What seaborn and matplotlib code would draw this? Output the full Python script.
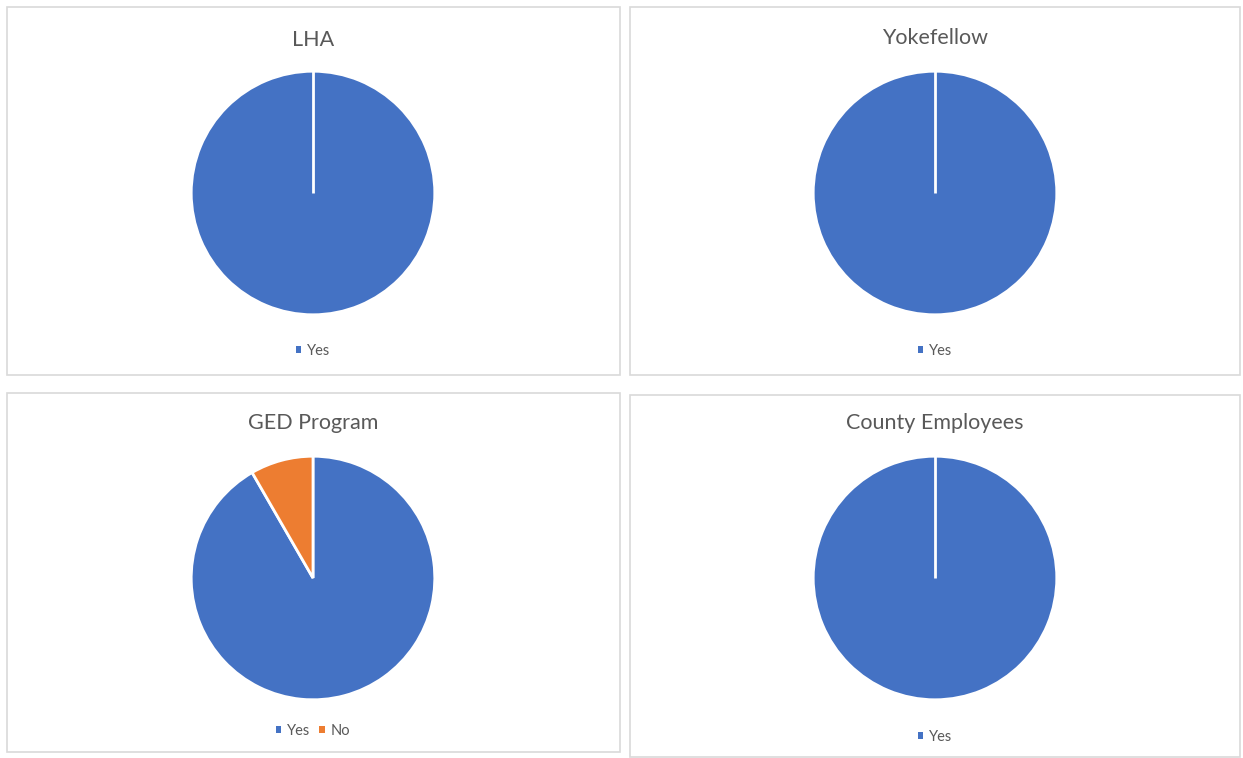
import numpy as np
import matplotlib.pyplot as plt
import matplotlib.patches as mpatches
import seaborn as sns

# survey answers per group (counts)
titles = ["LHA", "Yokefellow", "GED Program", "County Employees"]
labels = [["Yes"], ["Yes"], ["Yes", "No"], ["Yes"]]
values = [[1], [1], [11, 1], [1]]

palette = ["#4472C4", "#ED7D31"]

W, H = 1243, 758
sns.set_theme(style="white")
plt.rcParams['font.family'] = ['Lato', 'DejaVu Sans']

fig = plt.figure(figsize=(W / 100, H / 100), dpi=100)

# panel frames, pie centres, title / legend y positions (pixels, from top)
panels = [(7, 7, 620, 375), (630, 7, 1240, 375), (7, 393, 620, 752), (630, 395, 1240, 757)]
centres = [(313, 193), (935, 193), (313, 578), (935, 578)]
title_y = [40, 38, 423, 423]
legend_y = [351, 351, 731, 737]
radius = 123


def fx(x):
    return x / W


def fy(y):
    return 1 - y / H


for i in range(4):
    x0, y0, x1, y1 = panels[i]
    fig.patches.append(mpatches.Rectangle((fx(x0), fy(y1)), fx(x1 - x0), (y1 - y0) / H,
                                          transform=fig.transFigure, fill=False,
                                          edgecolor="#D9D9D9", linewidth=1.2))

    cx, cy = centres[i]
    ax = fig.add_axes([fx(cx - radius), fy(cy + radius), 2 * radius / W, 2 * radius / H])
    wedges, _ = ax.pie(values[i], colors=palette[:len(values[i])], startangle=90,
                       counterclock=False, radius=1,
                       wedgeprops=dict(edgecolor="white", linewidth=2))
    if len(wedges) == 1:
        # a full-circle wedge has no radial edge; Excel still draws the seam
        w = wedges[0]
        t = np.deg2rad(w.theta1)
        ax.plot([w.center[0], w.center[0] + w.r * np.cos(t)],
                [w.center[1], w.center[1] + w.r * np.sin(t)],
                color="white", linewidth=2, solid_capstyle="butt")
    ax.set_xlim(-1.01, 1.01)
    ax.set_ylim(-1.01, 1.01)
    ax.set_aspect("equal")
    ax.axis("off")

    fig.text(fx(cx), fy(title_y[i]), titles[i], ha="center", va="center",
             fontsize=15.5, color="#595959")

    handles = [mpatches.Patch(facecolor=palette[k], edgecolor="none") for k in range(len(labels[i]))]
    fig.legend(handles, labels[i], loc="center", bbox_to_anchor=(fx(cx), fy(legend_y[i])),
               ncol=len(labels[i]), frameon=False, fontsize=10.5, handlelength=0.4,
               handleheight=0.4, handletextpad=0.4, columnspacing=0.6,
               labelcolor="#595959")

fig.savefig("out.png", dpi=100, facecolor="white")
